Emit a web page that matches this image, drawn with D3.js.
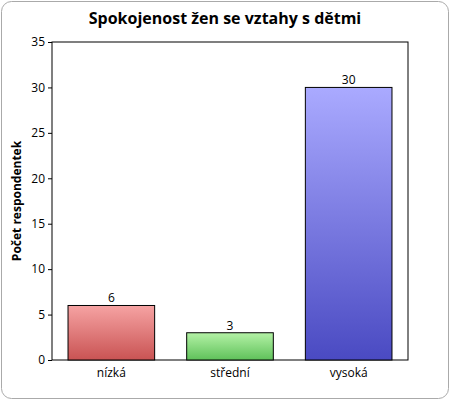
<!DOCTYPE html>
<html><head><meta charset="utf-8">
<script src="https://cdn.jsdelivr.net/npm/d3@7"></script>
<style>body{margin:0;background:#fff;font-family:"Open Sans",sans-serif}</style>
</head><body><svg id="c" width="450" height="400"></svg>
<script>
const categories = ["nízká","střední","vysoká"];
const values = [6,3,30];
const yTicks = [0,5,10,15,20,25,30,35];
const colors = [["#f6a3a3","#c95353"],["#b4f2a6","#5fc15a"],["#aaaaff","#4a4ac2"]];

const svg = d3.select("#c");
svg.append("rect").attr("x",1.5).attr("y",1.5).attr("width",447).attr("height",397).attr("rx",10)
  .attr("fill","#fff").attr("stroke","#aaa");
const m = {l:52,r:408,t:42,b:360};
const x = d3.scaleBand().domain(categories).range([m.l,m.r]).paddingInner(0.27).paddingOuter(0.135);
const y = d3.scaleLinear().domain([0,35]).range([m.b,m.t]);
const defs = svg.append("defs");
colors.forEach((c,i)=>{
  const g = defs.append("linearGradient").attr("id","g"+i).attr("x1",0).attr("y1",0).attr("x2",0).attr("y2",1);
  g.append("stop").attr("offset","0%").attr("stop-color",c[0]);
  g.append("stop").attr("offset","100%").attr("stop-color",c[1]);
});
svg.append("rect").attr("x",m.l).attr("y",m.t).attr("width",m.r-m.l).attr("height",m.b-m.t)
  .attr("fill","none").attr("stroke","#000");
const ya = svg.append("g").attr("transform",`translate(${m.l},0)`)
  .call(d3.axisLeft(y).tickValues(yTicks).tickSize(4).tickSizeOuter(0));
ya.select(".domain").remove();
ya.selectAll("text").attr("font-size",12).attr("font-family","Open Sans").attr("fill","#000");
const xa = svg.append("g").attr("transform",`translate(0,${m.b})`)
  .call(d3.axisBottom(x).tickSize(0).tickPadding(8));
xa.select(".domain").remove();
xa.selectAll("text").attr("font-size",12).attr("font-family","Open Sans").attr("fill","#000");
svg.selectAll(".bar").data(values).join("rect")
  .attr("x",(d,i)=>x(categories[i])).attr("width",x.bandwidth())
  .attr("y",d=>y(d)).attr("height",d=>y(0)-y(d))
  .attr("fill",(d,i)=>`url(#g${i})`).attr("stroke","#000");
svg.selectAll(".lbl").data(values).join("text")
  .attr("x",(d,i)=>x(categories[i])+x.bandwidth()/2).attr("y",d=>y(d)-3)
  .attr("text-anchor","middle").attr("font-size",12).text(d=>d);
svg.append("text").attr("x",225).attr("y",24).attr("text-anchor","middle")
  .attr("font-size",16).attr("font-weight","bold").text("Spokojenost žen se vztahy s dětmi");
svg.append("text").attr("transform",`translate(21,${(m.t+m.b)/2}) rotate(-90)`)
  .attr("text-anchor","middle").attr("font-size",12).attr("font-weight","bold").text("Počet respondentek");
</script></body></html>
